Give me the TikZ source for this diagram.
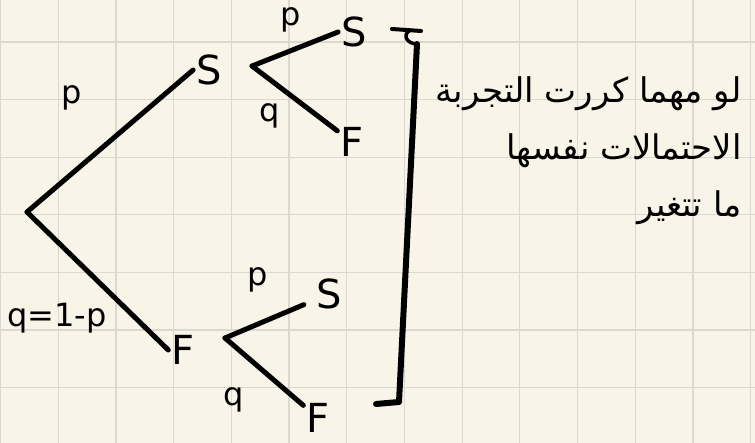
\documentclass[tikz,border=0pt]{standalone}
\usepackage{fontspec}
\setsansfont{DejaVu Sans}
\newfontfamily\arabicfont[Script=Arabic]{DejaVu Sans}
\TeXXeTstate=1
\definecolor{paper}{HTML}{F8F4E8}
\definecolor{gridc}{HTML}{DAD8D0}
\begin{document}
\begin{tikzpicture}[x=1pt,y=-1pt,
  lbl/.style={font=\sffamily\fontsize{40}{40}\selectfont, inner sep=3pt},
  sml/.style={font=\sffamily\fontsize{32}{32}\selectfont, inner sep=1pt},
  br/.style={line width=5pt, line cap=round, line join=round},
  artext/.style={font=\arabicfont\fontsize{34}{57}\selectfont, align=right, inner sep=0pt}]
\useasboundingbox (0,0) rectangle (755,443);
\fill[paper] (0,0) rectangle (755,443);
\foreach \i in {0,...,13} {\draw[gridc, line width=1.2pt] ({0.5+57.7*\i},0) -- ({0.5+57.7*\i},443);}
\foreach \j in {0,...,7} {\draw[gridc, line width=1.2pt] (0,{42+57.6*\j}) -- (755,{42+57.6*\j});}
% tree
\coordinate (root) at (27,212);
\node[lbl] (S1) at (209,70) {S};
\node[lbl] (F1) at (183,350) {F};
\coordinate (v1) at (252,66);
\coordinate (v2) at (225,338);
\node[lbl] (S2) at (354,32) {S};
\node[lbl] (F2) at (352,142) {F};
\node[lbl] (S3) at (329,294) {S};
\node[lbl] (F3) at (318,418) {F};
\draw[br] (root) -- (S1.west);
\draw[br] (root) -- (F1.west);
\draw[br] (v1) -- (S2.west);
\draw[br] (v1) -- (F2);
\draw[br, shorten >=10pt] (v2) -- (S3);
\draw[br] (v2) -- (F3);
% probability labels
\node[sml] (p1) at (72,98) {p};
\node[sml] (q1) at (57,318) {q=1-p};
\node[sml] (p2) at (291,20) {p};
\node[sml] (q2) at (270,116) {q};
\node[sml] (p3) at (258,280) {p};
\node[sml] (q3) at (234,400) {q};
% bracket
\draw[br, line width=4pt] (392,29) -- (421,31);
\draw[br, line width=3.5pt] (409,31) .. controls (402,36) and (408,44) .. (417,44);
\draw[br, line width=6pt] (417,44) -- (399,402) -- (376,404);
% arabic note
\node[artext, anchor=north east] (note) at (742,76)
  {\beginR لو مهما كررت التجربة\endR\\
   \beginR الاحتمالات نفسها\endR\\
   \beginR ما تتغير\endR};
\end{tikzpicture}
\end{document}
